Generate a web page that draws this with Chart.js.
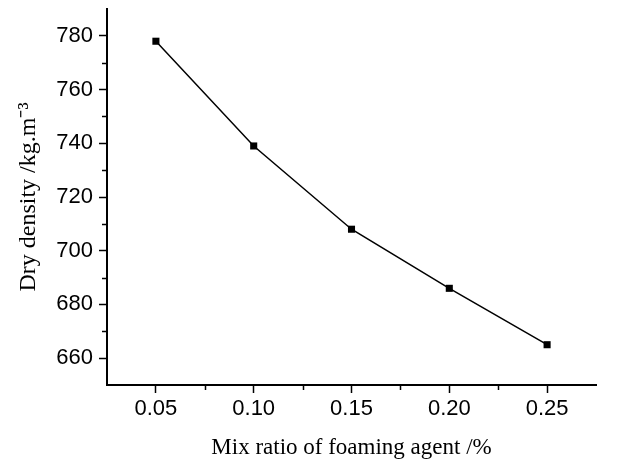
<!DOCTYPE html>
<html>
<head>
<meta charset="utf-8">
<script src="https://cdn.jsdelivr.net/npm/chart.js@4"></script>
<style>
    html, body { margin: 0; padding: 0; background: #fff; }
    #wrap { width: 624px; height: 464px; }
</style>
</head>
<body>
<div id="wrap"><canvas id="densityChart" width="624" height="464"></canvas></div>
<script>
// values
var mixRatio = [0.05, 0.10, 0.15, 0.20, 0.25];
var dryDensity = [778, 739, 708, 686, 665];

var xTicks = [0.05, 0.10, 0.15, 0.20, 0.25];
var xMinorTicks = [0.075, 0.125, 0.175, 0.225];
var yTicks = [660, 680, 700, 720, 740, 760, 780];
var yMinorTicks = [670, 690, 710, 730, 750, 770];

// small outward ticks between the labelled ones
const minorTicks = {
    id: 'minorTicks',
    afterDraw(chart) {
        let ctx = chart.ctx;
        let x = chart.scales.x;
        let y = chart.scales.y;
        ctx.save();
        ctx.strokeStyle = '#000';
        ctx.lineWidth = 1.5;
        ctx.beginPath();
        xMinorTicks.forEach(v => {
            let px = Math.round(x.getPixelForValue(v)) + 0.5;
            ctx.moveTo(px, x.top);
            ctx.lineTo(px, x.top + 5);
        });
        yMinorTicks.forEach(v => {
            let py = Math.round(y.getPixelForValue(v)) + 0.5;
            ctx.moveTo(y.right, py);
            ctx.lineTo(y.right - 5, py);
        });
        ctx.stroke();
        ctx.restore();
    }
};

var densityChart = new Chart(
    document.getElementById('densityChart'),
    {
        type: 'line',
        data: {
            datasets: [
                {
                    label: 'Dry density',
                    data: mixRatio.map((r, i) => ({ x: r, y: dryDensity[i] })),
                    borderColor: '#000',
                    backgroundColor: '#000',
                    borderWidth: 1.5,
                    pointStyle: 'rect',
                    pointRadius: 5,
                    pointBorderWidth: 0,
                    tension: 0
                }
            ]
        },
        options: {
            responsive: false,
            animation: false,
            layout: { padding: { top: 9, right: 28, left: 0, bottom: 0 } },
            plugins: {
                legend: { display: false },
                tooltip: { enabled: false }
            },
            scales: {
                x: {
                    type: 'linear',
                    min: 0.025,
                    max: 0.275,
                    afterBuildTicks: scale => { scale.ticks = xTicks.map(v => ({ value: v })); },
                    afterFit: scale => {
                        scale.height = 79;
                        scale.paddingLeft = 0;
                        scale.paddingRight = 0;
                    },
                    border: { display: true, color: '#000', width: 2 },
                    grid: {
                        drawOnChartArea: false,
                        drawTicks: true,
                        tickLength: 8,
                        tickColor: '#000',
                        tickWidth: 1.5
                    },
                    ticks: {
                        color: '#000',
                        padding: 3,
                        maxRotation: 0,
                        font: { family: 'Liberation Sans, Arial', size: 22 },
                        callback: v => v.toFixed(2)
                    },
                    title: {
                        display: true,
                        text: 'Mix ratio of foaming agent /%',
                        color: '#000',
                        padding: { top: 0, bottom: 2 },
                        font: { family: 'Liberation Serif, Times New Roman', size: 23 }
                    }
                },
                y: {
                    type: 'linear',
                    min: 650,
                    max: 790,
                    afterBuildTicks: scale => { scale.ticks = yTicks.map(v => ({ value: v })); },
                    afterFit: scale => {
                        scale.width = 107;
                        scale.paddingTop = 0;
                        scale.paddingBottom = 0;
                    },
                    border: { display: true, color: '#000', width: 2 },
                    grid: {
                        drawOnChartArea: false,
                        drawTicks: true,
                        tickLength: 8,
                        tickColor: '#000',
                        tickWidth: 1.5
                    },
                    ticks: {
                        color: '#000',
                        padding: 6,
                        font: { family: 'Liberation Sans, Arial', size: 22 }
                    },
                    title: {
                        display: true,
                        text: 'Dry density /kg.m⁻³',
                        color: '#000',
                        padding: { top: 14, bottom: 0 },
                        font: { family: 'Liberation Serif, Times New Roman', size: 24 }
                    }
                }
            }
        },
        plugins: [minorTicks]
    }
);
</script>
</body>
</html>
